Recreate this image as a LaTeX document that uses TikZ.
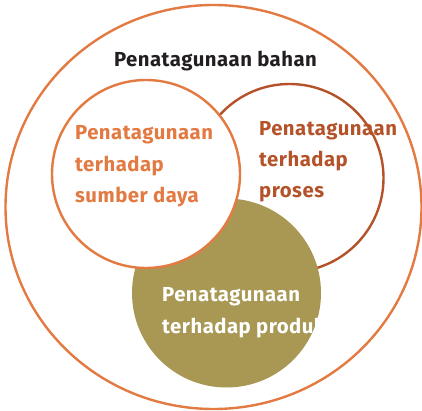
\documentclass[tikz,border=0pt]{standalone}
\usepackage{fontspec}
\setmainfont{Fira Sans}[LetterSpace=2.5]
\definecolor{orng}{HTML}{E27A42}
\definecolor{rust}{HTML}{B4532A}
\definecolor{olive}{HTML}{A89853}
\definecolor{ink}{HTML}{231F20}
\begin{document}
\begin{tikzpicture}[x=1pt,y=-1pt,
  lbl/.style={font=\fontsize{20.3}{24}\selectfont\bfseries, inner sep=0pt, anchor=base west},
  ring/.style={line width=2.4pt}]
\useasboundingbox (0,0) rectangle (422,411);
\draw[ring, orng] (213.5,207) ellipse [x radius=208, y radius=202];
\node[circle, minimum size=188pt, inner sep=0pt, draw=rust, ring] (proc) at (289.5,178) {};
\node[circle, minimum size=189pt, inner sep=0pt, fill=olive] (prod) at (226.5,293) {};
\node[circle, minimum size=188pt, inner sep=0pt, draw=orng, fill=white, ring] (res) at (146,174) {};
\node[lbl, ink, anchor=base] (title) at (215.5,66.5) {Penatagunaan bahan};
\node[lbl, orng] (r1) at (75,139.5) {Penatagunaan};
\node[lbl, orng] (r2) at (75,171.5) {terhadap};
\node[lbl, orng] (r3) at (75,203) {sumber daya};
\node[lbl, rust] (p1) at (259,135.5) {Penatagunaan};
\node[lbl, rust] (p2) at (259,167) {terhadap};
\node[lbl, rust] (p3) at (259,198) {proses};
\begin{scope}
\clip (prod.center) circle (94.5pt);
\node[lbl, white] (d1) at (162,301) {Penatagunaan};
\node[lbl, white] (d2) at (162,333) {terhadap produk};
\end{scope}
\end{tikzpicture}
\end{document}
